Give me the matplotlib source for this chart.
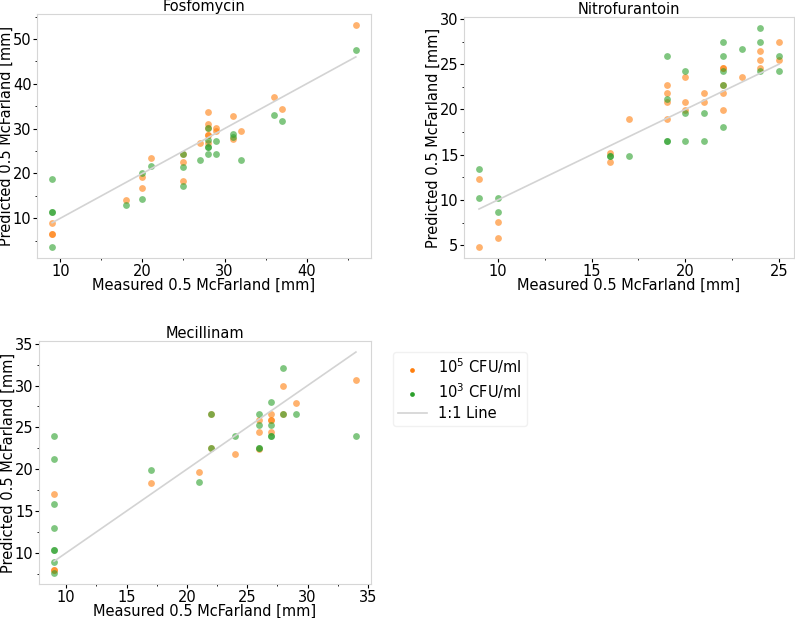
import matplotlib
matplotlib.use("Agg")
import matplotlib.pyplot as plt
from matplotlib.ticker import AutoMinorLocator

# Fosfomycin
fos_x_105 = [9, 9, 9, 18, 20, 20, 21, 25, 25, 25, 27, 28, 28, 28, 28, 28, 28, 29, 29, 31, 31, 32, 36, 37, 46]
fos_y_105 = [9.0, 6.5, 6.5, 14.1, 19.2, 16.7, 23.4, 24.4, 22.5, 18.3, 26.8, 33.6, 31.1, 30.2, 28.5, 28.5, 26.7, 30.2, 29.5, 32.8, 27.6, 29.4, 37.0, 34.4, 53.1]
fos_x_103 = [9, 9, 9, 9, 18, 20, 20, 21, 25, 25, 25, 27, 28, 28, 28, 28, 28, 29, 29, 31, 31, 32, 36, 37, 46]
fos_y_103 = [18.7, 11.5, 11.5, 3.6, 13.0, 20.1, 14.4, 21.6, 24.4, 21.5, 17.3, 23.0, 30.2, 27.4, 25.9, 25.9, 24.4, 27.3, 24.4, 28.8, 28.1, 23.0, 33.1, 31.7, 47.5]

# Nitrofurantoin
nit_x_105 = [9, 9, 10, 10, 16, 16, 17, 19, 19, 19, 19, 20, 20, 20, 21, 21, 22, 22, 22, 22, 22, 23, 24, 24, 24, 25, 25]
nit_y_105 = [12.3, 4.8, 7.6, 5.8, 15.2, 14.2, 18.9, 22.7, 21.8, 20.8, 18.9, 23.6, 20.8, 19.9, 21.8, 20.8, 24.6, 24.6, 22.7, 21.8, 19.9, 23.6, 26.5, 25.5, 24.6, 27.5, 25.5]
nit_x_103 = [9, 9, 10, 10, 16, 16, 17, 19, 19, 19, 19, 20, 20, 20, 21, 21, 22, 22, 22, 22, 22, 23, 24, 24, 24, 25, 25]
nit_y_103 = [13.4, 10.2, 10.2, 8.7, 14.9, 14.9, 14.9, 25.9, 21.2, 16.5, 16.5, 24.3, 19.6, 16.5, 19.6, 16.5, 27.5, 25.9, 24.3, 22.7, 18.1, 26.7, 29.0, 27.5, 24.3, 25.9, 24.3]

# Mecillinam
mec_x_105 = [9, 9, 9, 17, 21, 22, 22, 24, 26, 26, 26, 27, 27, 27, 27, 28, 28, 29, 34]
mec_y_105 = [17.0, 8.0, 8.0, 18.3, 19.7, 26.6, 22.5, 21.8, 25.9, 24.5, 22.4, 26.6, 25.9, 25.9, 24.5, 30.0, 26.6, 27.9, 30.7]
mec_x_103 = [9, 9, 9, 9, 9, 9, 9, 9, 17, 21, 22, 22, 24, 26, 26, 26, 26, 27, 27, 27, 27, 28, 28, 29, 34]
mec_y_103 = [24.0, 21.2, 15.8, 13.0, 10.3, 10.3, 8.9, 7.6, 19.9, 18.5, 26.6, 22.5, 24.0, 26.6, 25.3, 22.5, 22.5, 28.0, 25.3, 24.0, 24.0, 32.1, 26.6, 26.6, 24.0]

panels = [
    ("Fosfomycin", fos_x_105, fos_y_105, fos_x_103, fos_y_103),
    ("Nitrofurantoin", nit_x_105, nit_y_105, nit_x_103, nit_y_103),
    ("Mecillinam", mec_x_105, mec_y_105, mec_x_103, mec_y_103),
]

plt.rcParams["font.family"] = "DejaVu Sans"
fs = 10.5

fig = plt.figure(figsize=(7.95, 6.18), dpi=100)
W, H = 795, 618
boxes = [(37, 14, 371, 258), (464, 17, 794, 258), (39, 341, 371, 584)]

for (title, x5, y5, x3, y3), (l, t, r, b) in zip(panels, boxes):
    ax = fig.add_axes([l / W, 1 - b / H, (r - l) / W, (b - t) / H])
    ax.scatter(x5, y5, s=24, color="#ff7f0e", alpha=0.6, linewidths=0, label="10$^5$ CFU/ml")
    ax.scatter(x3, y3, s=24, color="#2ca02c", alpha=0.6, linewidths=0, label="10$^3$ CFU/ml")
    lo, hi = min(x5 + x3), max(x5 + x3)
    ax.plot([lo, hi], [lo, hi], color="lightgray", lw=1.2, label="1:1 Line")
    ax.set_title(title, fontsize=fs, pad=1)
    ax.set_xlabel("Measured 0.5 McFarland [mm]", fontsize=fs, labelpad=-0.5)
    ax.set_ylabel("Predicted 0.5 McFarland [mm]", fontsize=fs)
    ax.yaxis.set_label_coords(-23 / (r - l), 0.5)
    ax.tick_params(labelsize=fs, length=3, width=0.8, pad=1)
    ax.tick_params(which="minor", length=1.5, width=0.6)
    ax.xaxis.set_minor_locator(AutoMinorLocator(2))
    ax.yaxis.set_minor_locator(AutoMinorLocator(2))
    for sp in ax.spines.values():
        sp.set_color("#d6d6d6")
    last = ax

handles, labels = last.get_legend_handles_labels()
leg = fig.legend(handles, labels, loc="upper left", bbox_to_anchor=(386 / W, 1 - 345 / H),
                 fontsize=fs, markerscale=0.7, labelspacing=0.35, borderpad=0.3,
                 frameon=True, edgecolor="#eeeeee")
for h in leg.legend_handles[:2]:
    h.set_alpha(1)

fig.savefig("out.png", dpi=100)
